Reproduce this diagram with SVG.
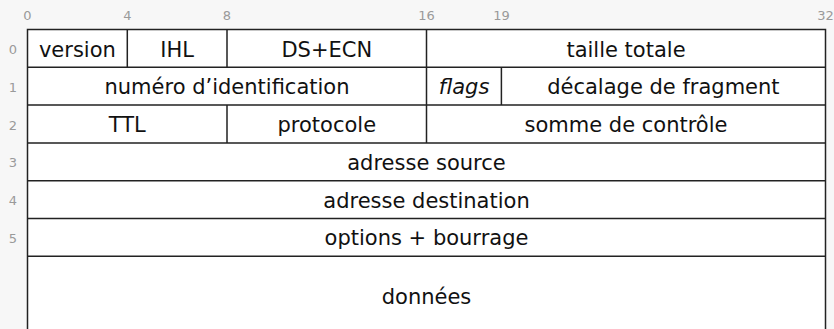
<svg xmlns="http://www.w3.org/2000/svg" width="834" height="329" viewBox="0 0 834 329">
<style>
.bg{fill:#f7f7f7}
.cell{fill:#ffffff}
.ln{stroke:#222;stroke-width:1.5;fill:none}
.t{font-family:"DejaVu Sans",sans-serif;font-size:21px;fill:#111;text-anchor:middle}
.it{font-style:oblique}
.tick{font-family:"DejaVu Sans",sans-serif;font-size:13px;fill:#9a9a9a;text-anchor:middle}
</style>
<rect class="bg" x="0" y="0" width="834" height="329"/>
<rect class="cell" x="27.5" y="29.5" width="798" height="300"/>
<g id="ticks">
<text class="tick" x="27.5" y="20">0</text>
<text class="tick" x="127.3" y="20">4</text>
<text class="tick" x="227" y="20">8</text>
<text class="tick" x="426.5" y="20">16</text>
<text class="tick" x="501.4" y="20">19</text>
<text class="tick" x="825.5" y="20">32</text>
</g>
<g id="rowlabels">
<text class="tick" x="13" y="53.5">0</text>
<text class="tick" x="13" y="91.5">1</text>
<text class="tick" x="13" y="129.5">2</text>
<text class="tick" x="13" y="167">3</text>
<text class="tick" x="13" y="205">4</text>
<text class="tick" x="13" y="243">5</text>
</g>
<g id="connectors">
<path class="ln" d="M27.5,329 V29.5 H825.5 V329"/>
<path class="ln" d="M27.5,67.3 H825.5 M27.5,105.1 H825.5 M27.5,142.9 H825.5 M27.5,180.7 H825.5 M27.5,218.5 H825.5 M27.5,256.3 H825.5"/>
<path class="ln" d="M127.3,29.5 V67.3 M227,29.5 V67.3 M426.5,29.5 V142.9 M501.4,67.3 V105.1 M227,105.1 V142.9"/>
</g>
<g id="version"><text class="t" x="77.4" y="56.5">version</text></g>
<g id="ihl"><text class="t" x="177.1" y="56.5">IHL</text></g>
<g id="dsecn"><text class="t" x="326.8" y="56.5">DS+ECN</text></g>
<g id="taille"><text class="t" x="626" y="56.5">taille totale</text></g>
<g id="ident"><text class="t" x="227" y="94.3">numéro d’identification</text></g>
<g id="flags"><text class="t it" x="464" y="94.3">flags</text></g>
<g id="decalage"><text class="t" x="663.4" y="94.3">décalage de fragment</text></g>
<g id="ttl"><text class="t" x="127.3" y="132">TTL</text></g>
<g id="protocole"><text class="t" x="326.8" y="132">protocole</text></g>
<g id="somme"><text class="t" x="626" y="132">somme de contrôle</text></g>
<g id="source"><text class="t" x="426.5" y="169.8">adresse source</text></g>
<g id="destination"><text class="t" x="426.5" y="207.6">adresse destination</text></g>
<g id="options"><text class="t" x="426.5" y="245.4">options + bourrage</text></g>
<g id="donnees"><text class="t" x="426.5" y="304">données</text></g>
</svg>
